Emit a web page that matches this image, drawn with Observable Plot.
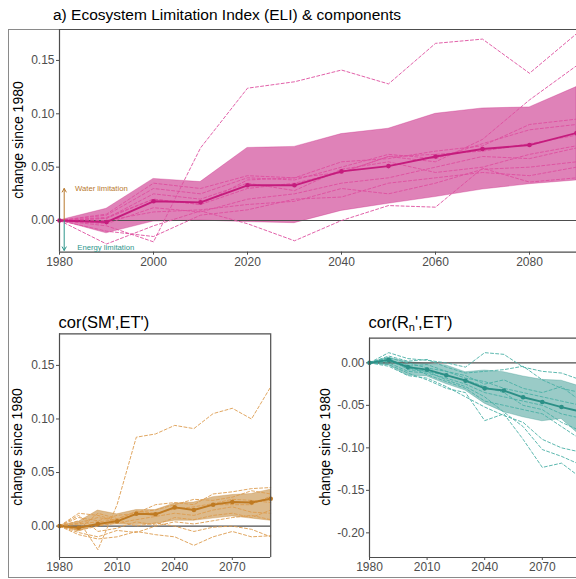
<!DOCTYPE html>
<html><head><meta charset="utf-8">
<script src="https://cdn.jsdelivr.net/npm/d3@7"></script>
<script src="https://cdn.jsdelivr.net/npm/@observablehq/plot@0.6"></script>
<style>
body{margin:0;background:#fff;}
#wrap{position:relative;width:576px;height:579px;overflow:hidden;background:#fff;font-family:"Liberation Sans",Arial,Helvetica,sans-serif;}
.abs{position:absolute;}
.ttl{position:absolute;white-space:nowrap;color:#000;line-height:20px;}
.ylab{position:absolute;white-space:nowrap;font-size:14px;color:#000;transform:translate(-50%,-50%) rotate(-90deg);}
</style></head><body>
<div id="wrap">
  <div class="abs" style="left:7.5px;top:28.5px;width:640px;height:549px;border:1.5px solid #8a8a8a;box-sizing:border-box"></div>
  <div class="ttl" style="left:53px;top:5px;font-size:15.5px">a) Ecosystem Limitation Index (ELI) &amp; components</div>
  <div class="ttl" style="left:58.5px;top:311.5px;font-size:16.5px">cor(SM',ET')</div>
  <div class="ttl" style="left:368.5px;top:311.5px;font-size:16.5px">cor(R<sub style="font-size:11px;line-height:0;vertical-align:-3px">n</sub>',ET')</div>
  <div class="ylab" style="left:18px;top:140px">change since 1980</div>
  <div class="ylab" style="left:17px;top:446.5px">change since 1980</div>
  <div class="ylab" style="left:325px;top:446.5px">change since 1980</div>
</div>
<script>
// ---------------- data ----------------
const years = [1980,1990,2000,2010,2020,2030,2040,2050,2060,2070,2080,2090];

// ELI
const eliMean  = [0,-0.0015,0.018,0.017,0.033,0.033,0.046,0.051,0.060,0.067,0.0707,0.082];
const eliUpper = [0,0.011,0.039,0.036,0.068,0.069,0.081,0.086,0.100,0.105,0.106,0.125];
const eliLower = [0,-0.012,-0.001,0.0,-0.0015,-0.0025,0.009,0.0157,0.022,0.029,0.034,0.0375];
const eliModels = [
  [0,-0.005,-0.020,0.068,0.124,0.130,0.141,0.128,0.166,0.170,0.138,0.175],
  [0,0.003,0.020,0.015,0.030,0.035,0.045,0.060,0.055,0.076,0.113,0.145],
  [0,-0.022,-0.005,0.009,-0.003,-0.019,0.000,0.014,0.0125,0.049,0.036,0.040],
  [0,0.005,0.030,0.025,0.040,0.038,0.050,0.062,0.058,0.072,0.085,0.090],
  [0,0.002,0.025,0.020,0.035,0.028,0.048,0.055,0.045,0.050,0.062,0.070],
  [0,-0.003,0.012,0.008,0.020,0.025,0.035,0.040,0.050,0.060,0.058,0.068],
  [0,0.000,0.008,0.010,0.015,0.018,0.030,0.025,0.035,0.048,0.050,0.055],
  [0,-0.010,-0.015,0.005,0.010,0.020,0.022,0.035,0.040,0.045,0.042,0.050],
  [0,0.006,0.035,0.030,0.042,0.040,0.055,0.058,0.065,0.070,0.090,0.095],
  [0,0.002,0.020,0.015,0.038,0.040,0.045,0.060,0.062,0.065,0.072,0.080]
];

// cor(SM',ET')
const smMean  = [0,-0.0015,0.002,0.0045,0.0115,0.011,0.0175,0.015,0.020,0.0225,0.022,0.0255];
const smUpper = [0,0.004,0.0145,0.011,0.015,0.015,0.021,0.022,0.027,0.029,0.030,0.034];
const smLower = [0,-0.005,0.0005,0.0015,0.001,0.002,0.005,0.005,0.007,0.009,0.007,0.005];
const smModels = [
  [0,0.005,-0.022,0.020,0.083,0.086,0.094,0.091,0.105,0.110,0.100,0.130],
  [0,-0.008,-0.012,-0.010,-0.005,-0.008,-0.010,-0.018,-0.010,-0.005,-0.010,-0.009],
  [0,0.012,0.010,0.005,0.000,0.003,0.000,-0.005,-0.001,0.000,-0.003,-0.010],
  [0,0.003,0.008,0.005,0.012,0.020,0.022,0.020,0.030,0.032,0.035,0.036],
  [0,-0.003,0.012,0.007,0.013,0.015,0.020,0.025,0.024,0.027,0.033,0.030],
  [0,0.008,0.005,0.010,0.012,0.010,0.018,0.015,0.020,0.020,0.020,0.028],
  [0,-0.004,0.000,0.003,0.006,0.009,0.012,0.010,0.015,0.018,0.013,0.012],
  [0,0.010,-0.005,-0.002,0.004,0.001,0.008,0.006,0.010,0.012,0.008,0.015],
  [0,-0.006,-0.010,-0.004,-0.006,0.000,0.004,0.002,0.005,0.008,0.010,0.006],
  [0,0.002,0.004,0.006,0.014,0.012,0.016,0.018,0.021,0.025,0.024,0.022]
];

// cor(Rn',ET')
const rnMean  = [0,0.0035,-0.005,-0.008,-0.0145,-0.021,-0.030,-0.0326,-0.0405,-0.046,-0.052,-0.0575];
const rnUpper = [0,0.006,0.001,-0.001,-0.003,-0.011,-0.009,-0.011,-0.016,-0.020,-0.021,-0.028];
const rnLower = [0,-0.003,-0.015,-0.016,-0.025,-0.0326,-0.048,-0.058,-0.064,-0.0687,-0.066,-0.086];
const rnModels = [
  [0,-0.002,-0.012,-0.020,-0.030,-0.035,-0.068,-0.060,-0.090,-0.123,-0.118,-0.135],
  [0,0.006,-0.008,-0.010,-0.020,-0.028,-0.040,-0.058,-0.075,-0.102,-0.110,-0.120],
  [0,0.012,0.005,0.003,0.000,-0.005,0.012,0.010,-0.005,-0.010,-0.012,-0.020],
  [0,0.008,0.002,0.004,-0.005,-0.012,-0.010,-0.008,-0.004,-0.020,-0.030,-0.035],
  [0,0.004,-0.004,-0.002,-0.010,-0.018,-0.022,-0.030,-0.035,-0.040,-0.045,-0.050],
  [0,0.000,-0.010,-0.012,-0.018,-0.025,-0.035,-0.040,-0.045,-0.050,-0.060,-0.065],
  [0,0.002,-0.006,-0.010,-0.015,-0.020,-0.028,-0.035,-0.050,-0.055,-0.070,-0.080],
  [0,-0.004,-0.015,-0.018,-0.028,-0.040,-0.052,-0.062,-0.070,-0.090,-0.100,-0.105],
  [0,0.006,0.000,-0.006,-0.010,-0.015,-0.025,-0.020,-0.030,-0.035,-0.028,-0.045],
  [0,0.003,-0.003,-0.014,-0.022,-0.030,-0.045,-0.050,-0.055,-0.060,-0.075,-0.090]
];

const xTicksTop = [1980,2000,2020,2040,2060,2080];
const xTicksBottom = [1980,2010,2040,2070];
const yTicksPos = [0,0.05,0.10,0.15];
const yTicksNeg = [0,-0.05,-0.10,-0.15,-0.20];

const arrows = [
  {year:1981, from:0, to:0.030, label:"Water limitation", ly:0.030, lx:1983.3, color:"#b8792e"},
  {year:1981, from:0, to:-0.028, label:"Energy limitation", ly:-0.0255, lx:1983.8, color:"#2e958b"}
];

// ---------------- drawing ----------------
const wrap = document.getElementById("wrap");
const AX = "#4d4d4d";

function panel(o) {
  const band = years.map((yr, i) => ({year: yr, lo: o.lower[i], hi: o.upper[i]}));
  const mean = years.map((yr, i) => ({year: yr, v: o.mean[i]}));
  const models = o.models.flatMap((vals, m) => years.map((yr, i) => ({model: m, year: yr, v: vals[i]})));
  const [y0, y1] = o.yDomain;
  const marks = [
    Plot.areaY(band, {x: "year", y1: "lo", y2: "hi", fill: o.bandColor, fillOpacity: o.bandOpacity, stroke: o.color, strokeOpacity: 0.5, strokeWidth: 0.6}),
    Plot.ruleY([0], {stroke: AX, strokeWidth: 1.1}),
    Plot.lineY(models, {x: "year", y: "v", z: "model", stroke: o.dashColor, strokeWidth: 0.9, strokeDasharray: "3,2.2"}),
    Plot.lineY(mean, {x: "year", y: "v", stroke: o.color, strokeWidth: 1.9}),
    Plot.dot(mean, {x: "year", y: "v", fill: o.color, r: 2.3}),
    Plot.ruleY([y1], {stroke: AX, strokeWidth: 1.2}),
    Plot.ruleY([y0], {stroke: AX, strokeWidth: 1.2}),
    Plot.ruleX([1980], {stroke: AX, strokeWidth: 1.2})
  ];
  if (o.rightRule) marks.push(Plot.ruleX([2090], {stroke: AX, strokeWidth: 1.2}));
  if (o.extra) marks.push(...o.extra);
  const svg = Plot.plot({
    width: o.width, height: o.height,
    marginLeft: o.mL, marginRight: o.mR, marginTop: o.mT, marginBottom: o.mB,
    style: {background: "transparent", fontSize: "12px", fontFamily: "'Liberation Sans', Arial, sans-serif", color: AX, overflow: "visible", maxWidth: "none"},
    x: {domain: [1980, 2090], ticks: o.xTicks, tickFormat: d => String(d), tickSize: 3, tickPadding: 2, label: null},
    y: {domain: o.yDomain, ticks: o.yTicks, tickFormat: d => d.toFixed(2), tickSize: 3, tickPadding: 2, label: null},
    marks
  });
  svg.style.position = "absolute";
  svg.style.left = o.left + "px";
  svg.style.top = o.top + "px";
  wrap.appendChild(svg);
}

panel({
  left: 0, top: 0, width: 576, height: 280, mL: 59, mR: 0, mT: 29, mB: 28.3,
  yDomain: [-0.0297, 0.179], yTicks: yTicksPos, xTicks: xTicksTop,
  mean: eliMean, upper: eliUpper, lower: eliLower, models: eliModels,
  color: "#c51b7d", bandColor: "#c51b7d", bandOpacity: 0.55, dashColor: "#de4f9f",
  extra: [
    Plot.arrow(arrows, {x1: "year", x2: "year", y1: "from", y2: "to", stroke: "color", strokeWidth: 1, headLength: 6}),
    Plot.text(arrows, {x: "lx", y: "ly", text: "label", fill: "color", textAnchor: "start", fontSize: 7.7})
  ]
});

panel({
  left: 0, top: 290, width: 290, height: 289, mL: 59, mR: 19.8, mT: 43.3, mB: 22,
  yDomain: [-0.0293, 0.1795], yTicks: yTicksPos, xTicks: xTicksBottom,
  mean: smMean, upper: smUpper, lower: smLower, models: smModels,
  color: "#bf7a22", bandColor: "#bf812d", bandOpacity: 0.55, dashColor: "#dc9c4f", rightRule: true
});

panel({
  left: 300, top: 290, width: 290, height: 289, mL: 69, mR: 9.8, mT: 47.7, mB: 22,
  yDomain: [-0.229, 0.029], yTicks: yTicksNeg, xTicks: xTicksBottom,
  mean: rnMean, upper: rnUpper, lower: rnLower, models: rnModels,
  color: "#2b8f86", bandColor: "#35978f", bandOpacity: 0.5, dashColor: "#4bb0a6"
});
</script>
</body></html>
